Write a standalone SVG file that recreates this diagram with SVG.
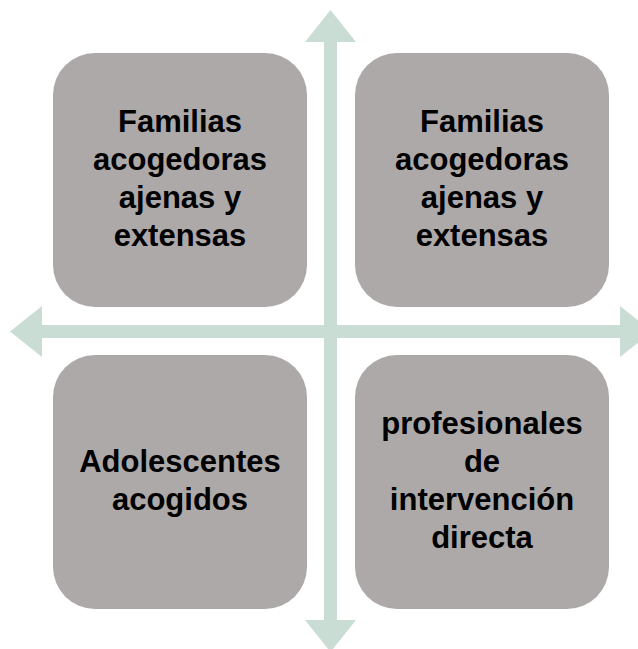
<svg xmlns="http://www.w3.org/2000/svg" width="638" height="649" viewBox="0 0 638 649">
  <style>
    .box { fill: #ADA9A9; }
    .arrow { fill: #C9DDD5; }
    .lbl { font-family: "Liberation Sans", Arial, sans-serif; font-weight: bold; font-size: 31px; fill: #000000; text-anchor: middle; }
  </style>
  <rect width="638" height="649" fill="#FFFFFF"/>
  <g id="connectors">
    <path class="arrow" d="M330.5,10 L356,42 L337,42 L337,325 L620,325 L620,306 L652,331.5 L620,357 L620,338 L337,338 L337,620 L356,620 L330.5,652 L305,620 L324,620 L324,338 L42,338 L42,357 L10,331.5 L42,306 L42,325 L324,325 L324,42 L305,42 Z"/>
  </g>
  <g id="node-top-left">
    <rect class="box" x="53" y="53" width="254" height="254" rx="42" ry="42"/>
    <text class="lbl" x="180" y="132">Familias</text>
    <text class="lbl" x="180" y="170">acogedoras</text>
    <text class="lbl" x="180" y="208">ajenas y</text>
    <text class="lbl" x="180" y="246">extensas</text>
  </g>
  <g id="node-top-right">
    <rect class="box" x="355" y="53" width="254" height="254" rx="42" ry="42"/>
    <text class="lbl" x="482" y="132">Familias</text>
    <text class="lbl" x="482" y="170">acogedoras</text>
    <text class="lbl" x="482" y="208">ajenas y</text>
    <text class="lbl" x="482" y="246">extensas</text>
  </g>
  <g id="node-bottom-left">
    <rect class="box" x="53" y="355" width="254" height="254" rx="42" ry="42"/>
    <text class="lbl" x="180" y="472">Adolescentes</text>
    <text class="lbl" x="180" y="510">acogidos</text>
  </g>
  <g id="node-bottom-right">
    <rect class="box" x="355" y="355" width="254" height="254" rx="42" ry="42"/>
    <text class="lbl" x="482" y="434">profesionales</text>
    <text class="lbl" x="482" y="472">de</text>
    <text class="lbl" x="482" y="510">intervención</text>
    <text class="lbl" x="482" y="548">directa</text>
  </g>
</svg>
